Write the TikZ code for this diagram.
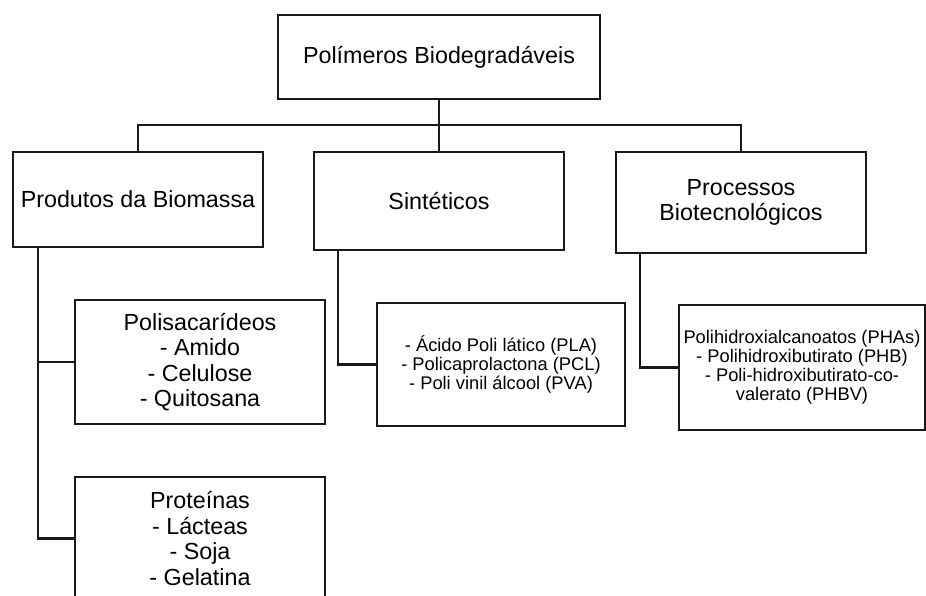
\documentclass[tikz,border=0pt]{standalone}
\usepackage{fontspec}
\setmainfont{Liberation Sans}
\usetikzlibrary{calc}
\tikzset{
  box/.style={draw=black!90, line width=2.2pt, inner sep=0pt, align=center,
    font=\fontsize{23.3}{25.5}\selectfont},
  subbox/.style={draw=black!90, line width=2.2pt, inner sep=0pt, align=center,
    font=\fontsize{18.3}{19}\selectfont},
  link/.style={draw=black!90, line width=2.2pt}
}
\begin{document}
\begin{tikzpicture}[x=1pt,y=-1pt]
\useasboundingbox (0,0) rectangle (926,595);
\node[box, minimum width=322pt, minimum height=84pt] (top) at (439,57) {Polímeros Biodegradáveis};
\node[box, minimum width=250pt, minimum height=95pt] (b1) at (138,199.5) {Produtos da Biomassa};
\node[box, minimum width=250pt, minimum height=98pt] (b2) at (439,201) {Sintéticos};
\node[box, minimum width=250pt, minimum height=101pt] (b3) at (741,202.5) {Processos\\Biotecnológicos};
\node[box, minimum width=250pt, minimum height=124pt] (poly) at (200,362) {Polisacarídeos\\- Amido\\- Celulose\\- Quitosana};
\node[box, minimum width=250pt, minimum height=123pt] (prot) at (200,538.5) {Proteínas\\- Lácteas\\- Soja\\- Gelatina};
\node[subbox, minimum width=248pt, minimum height=123pt] (sint) at (501,364.5) {- Ácido Poli lático (PLA)\\- Policaprolactona (PCL)\\- Poli vinil álcool (PVA)};
\node[subbox, minimum width=246pt, minimum height=125pt] (pha) at (802,367.5) {Polihidroxialcanoatos (PHAs)\\- Polihidroxibutirato (PHB)\\- Poli-hidroxibutirato-co-\\valerato (PHBV)};
\coordinate (bus) at (439,125);
\draw[link] (top.south) -- (b2.north);
\draw[link] (b1.north) |- (bus) -| (b3.north);
\coordinate (d1) at ($(b1.south west)+(26,0)$);
\draw[link] (d1) |- (poly.west);
\draw[link] (d1) |- (prot.west);
\draw[link] ($(b2.south west)+(25,0)$) |- (sint.west);
\draw[link] ($(b3.south west)+(25,0)$) |- (pha.west);
\end{tikzpicture}
\end{document}
